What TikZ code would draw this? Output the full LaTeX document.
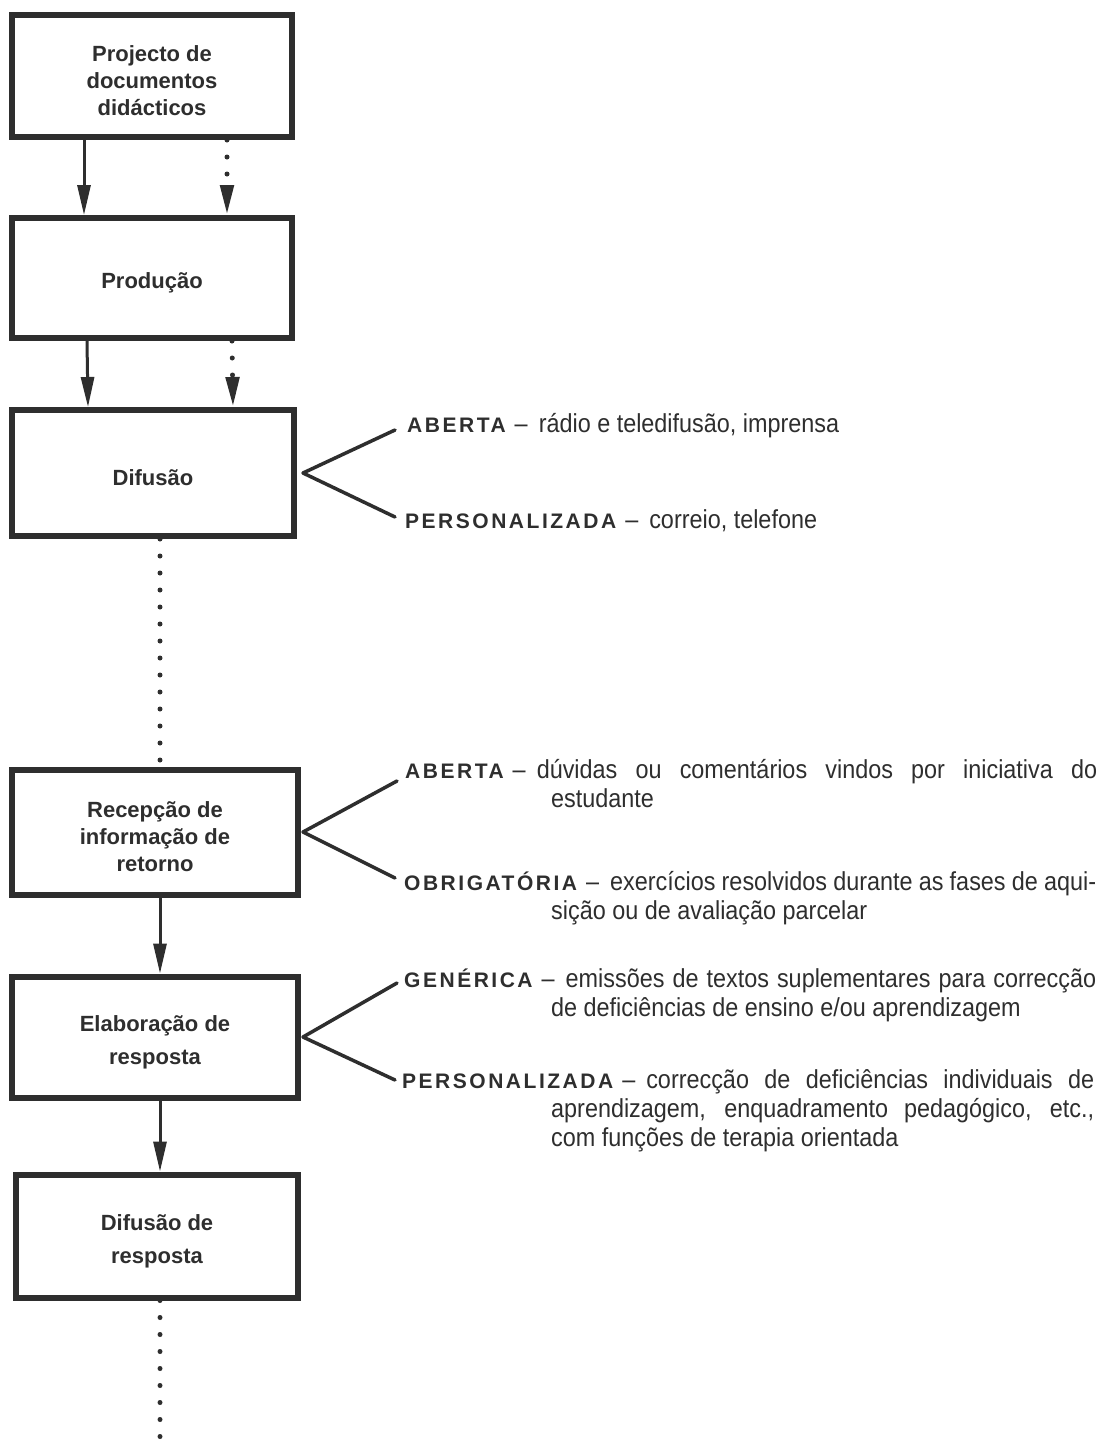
\documentclass[tikz,border=0pt]{standalone}
\usepackage{fontspec}
\setmainfont{Liberation Sans}
\newfontfamily\descfont[FakeStretch=0.9]{Liberation Sans}
\newfontfamily\capsfont[LetterSpace=12]{Liberation Sans}
\usetikzlibrary{arrows.meta}
\definecolor{ink}{HTML}{2E2E2E}
\newcommand{\kind}[1]{{\capsfont\bfseries\fontsize{21}{29}\selectfont #1}}
\newcommand{\sep}{\hspace{9pt}–\hspace{11pt}}
\newcommand{\tall}{\rule{0pt}{26pt}}
\newcommand{\notebox}[2]{\parbox[t]{692pt}{\hangindent=#1\hangafter=1 #2}}

\begin{document}
\begin{tikzpicture}[x=1pt, y=-1pt,
    stage/.style={draw=ink, line width=6pt, fill=white, align=center, inner sep=0pt,
        text=ink, font=\bfseries\fontsize{22}{27}\selectfont},
    flow/.style={draw=ink, line width=3pt, -{Triangle[length=30pt, width=13pt]}},
    dotflow/.style={draw=ink, line width=5pt, line cap=round, dash pattern=on 0pt off 17pt},
    dottip/.style={-{Triangle[length=30pt, width=13pt]}},
    fork/.style={draw=ink, line width=3.5pt, line cap=round, line join=round},
    note/.style={anchor=base west, inner sep=0pt, text=ink, font=\descfont\fontsize{26}{29}\selectfont}
]
\fill[white] (0,0) rectangle (1104,1443);
\useasboundingbox (0,0) rectangle (1104,1443);

% Define stages
\node[stage, minimum width=280pt, minimum height=122pt] (proj) at (152,76) {\tall Projecto de\\documentos\\didácticos};
\node[stage, minimum width=280pt, minimum height=120pt] (prod) at (152,278) {\tall Produção};
\node[stage, minimum width=282pt, minimum height=126pt] (difu) at (153,473) {\tall Difusão};
\node[stage, minimum width=286pt, minimum height=125pt] (recep) at (155,832) {\tall Recepção de\\informação de\\retorno};
\node[stage, minimum width=286pt, minimum height=121pt] (elab) at (155,1037) {\tall Elaboração de\\[6pt]resposta};
\node[stage, minimum width=282pt, minimum height=123pt] (difr) at (157,1236) {\tall Difusão de\\[6pt]resposta};
\coordinate (tail) at (160,1443);

% Define flows between stages
\draw[flow] ([xshift=-68pt]proj.south) -- ([xshift=-68pt]prod.north);
\draw[dotflow, dottip] ([xshift=75pt]proj.south) -- ([xshift=75pt]prod.north);
\draw[flow] ([xshift=-65pt]prod.south) -- ([xshift=-65pt]difu.north);
\draw[dotflow, dottip] ([xshift=80pt]prod.south) -- ([xshift=80pt]difu.north);
\draw[dotflow] ([xshift=7pt]difu.south) -- ([xshift=5pt]recep.north);
\draw[flow] ([xshift=5pt]recep.south) -- ([xshift=5pt]elab.north);
\draw[flow] ([xshift=5pt]elab.south) -- ([xshift=3pt]difr.north);
\draw[dotflow] ([xshift=3pt]difr.south) -- (tail);

% Define forks with their notes
\coordinate (difuA) at (395,430);
\coordinate (difuB) at (395,517);
\draw[fork] (difuA) -- ([xshift=6pt]difu.east) -- (difuB);
\node[note] (difuAtext) at (407,432) {\kind{ABERTA}\sep rádio e teledifusão, imprensa};
\node[note] (difuBtext) at (405,528) {\kind{PERSONALIZADA}\sep correio, telefone};

\coordinate (recepA) at (397,781);
\coordinate (recepB) at (395,878);
\draw[fork] (recepA) -- ([xshift=2pt]recep.east) -- (recepB);
\node[note] (recepAtext) at (405,778) {\notebox{146pt}{\kind{ABERTA}\sep dúvidas ou comentários vindos por iniciativa do\linebreak estudante}};
\node[note] (recepBtext) at (404,890) {\notebox{147pt}{\kind{OBRIGATÓRIA}\sep exercícios resolvidos durante as fases de aqui-\linebreak sição ou de avaliação parcelar}};

\coordinate (elabA) at (397,983);
\coordinate (elabB) at (395,1080);
\draw[fork] (elabA) -- ([xshift=2pt]elab.east) -- (elabB);
\node[note] (elabAtext) at (404,987) {\notebox{147pt}{\kind{GENÉRICA}\sep emissões de textos suplementares para correcção\linebreak de deficiências de ensino e/ou aprendizagem}};
\node[note] (elabBtext) at (402,1088) {\notebox{149pt}{\kind{PERSONALIZADA}\sep correcção de deficiências individuais de\linebreak aprendizagem, enquadramento pedagógico, etc.,\linebreak com funções de terapia orientada}};

\end{tikzpicture}
\end{document}
